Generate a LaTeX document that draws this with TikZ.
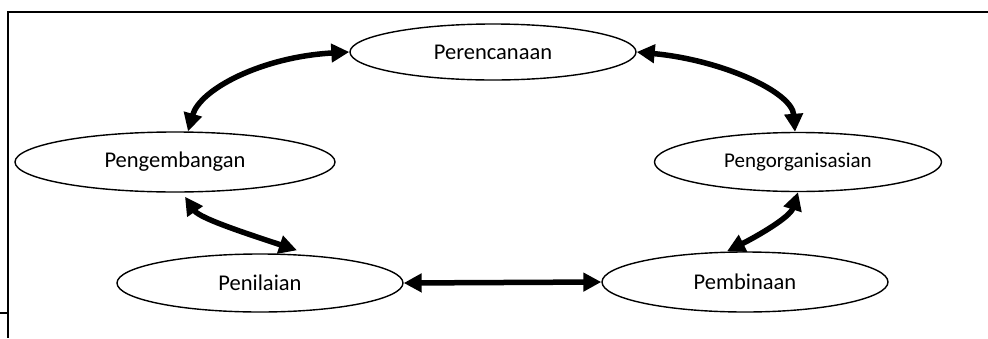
\documentclass[tikz,border=0pt]{standalone}
\usepackage{fontspec}
\setmainfont{Carlito}
\usetikzlibrary{shapes.geometric,arrows.meta}
\begin{document}
\begin{tikzpicture}[x=1pt,y=-1pt,
  stage/.style={draw, ellipse, line width=1.4pt, inner sep=0pt, font=\fontsize{22.5}{26}\selectfont},
  arr/.style={line width=5.5pt, {Triangle[length=18pt,width=18pt]}-{Triangle[length=18pt,width=18pt]}},
  frame/.style={line width=2pt}]
\useasboundingbox (0,0) rectangle (988,338);
\draw[frame] (988,12) -- (8,12) -- (8,338);
\draw[frame] (0,313) -- (8,313);
\node[stage, minimum width=286pt, minimum height=56pt] (per) at (493,52) {Perencanaan};
\node[stage, minimum width=320pt, minimum height=60pt] (peng) at (175,162) {Pengembangan};
\node[stage, minimum width=287pt, minimum height=59pt, font=\fontsize{21}{24}\selectfont] (porg) at (798,162) {Pengorganisasian};
\node[stage, minimum width=286pt, minimum height=58pt] (pen) at (260,283) {Penilaian};
\node[stage, minimum width=286pt, minimum height=60pt] (pemb) at (745,282) {Pembinaan};
\draw[arr] (per.west) .. controls +(-88,5) and +(12,-42) .. ([xshift=13pt]peng.north);
\draw[arr] (per.east) .. controls +(85,8) and +(-3,-40) .. ([xshift=-3pt]porg.north);
\draw[arr] ([xshift=10pt,yshift=-4pt]peng.south) .. controls +(15,22) and +(-45,-15) .. ([xshift=37pt,yshift=3pt]pen.north);
\draw[arr] (pen.east) -- (pemb.west);
\draw[arr] ([xshift=-18pt]pemb.north) .. controls +(30,-15) and +(-8,25) .. (porg.south);
\end{tikzpicture}
\end{document}
